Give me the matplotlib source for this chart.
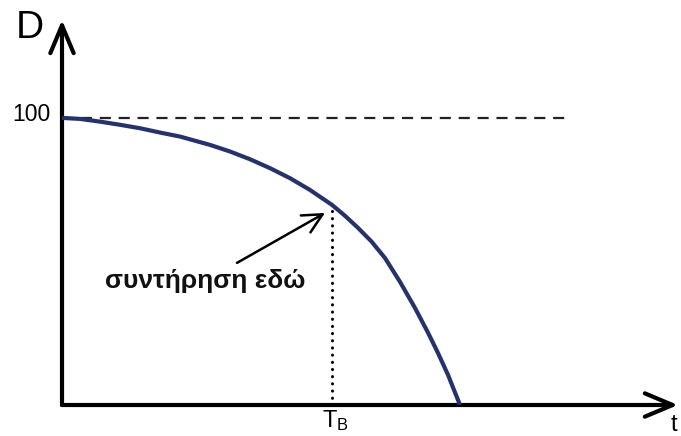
import matplotlib
matplotlib.use("Agg")
import matplotlib.pyplot as plt

plt.rcParams['font.family'] = ['Liberation Sans', 'DejaVu Sans']
plt.rcParams['mathtext.fontset'] = 'custom'
plt.rcParams['mathtext.rm'] = 'Liberation Sans'
plt.rcParams['mathtext.it'] = 'Liberation Sans'

# Curve D(t)
t_vals = [0.0, 0.45, 0.95, 1.45, 1.95, 2.45, 2.95, 3.7, 4.2, 4.7, 5.2, 5.7,
          6.2, 6.75, 7.075, 7.4, 7.74, 8.075, 8.45, 8.825, 9.15, 9.4, 9.65, 9.95]
d_vals = [100.0, 99.65, 98.7, 97.6, 96.4, 94.9, 93.5, 90.6, 88.3, 85.6, 82.5, 79.0,
          74.9, 69.7, 65.9, 61.7, 56.9, 51.2, 42.9, 33.8, 25.2, 18.1, 10.5, 0.0]
ref_level = 100
ref_end = 12.6
t_b = 6.75
d_b = 69.7
label_text = "συντήρηση εδώ"
x_label = "t"
y_label = "D"
tb_label = r"T$_\mathrm{B}$"
ref_label = "100"

W, H = 681, 436
fig = plt.figure(figsize=(W / 100, H / 100), dpi=100)
ax = fig.add_axes([62 / W, (H - 405) / H, (678 - 62) / W, (405 - 20) / H])
xmax, ymax = 15.4, 134.1
ax.set_xlim(0, xmax)
ax.set_ylim(0, ymax)
ax.axis('off')

# axes with open arrowheads
for end in [(xmax, 0), (0, ymax)]:
    ax.annotate("", xy=end, xytext=(0, 0),
                arrowprops=dict(arrowstyle="->,head_length=1.0,head_width=0.42",
                                lw=3.0, color='black', shrinkA=0, shrinkB=0,
                                mutation_scale=20),
                annotation_clip=False)

# dashed reference line
ax.plot([0, ref_end], [ref_level, ref_level], color='#222222', lw=1.6,
        linestyle=(0, (5, 3.5)), zorder=2)

# curve
ax.plot(t_vals, d_vals, color='#26336b', lw=3.0, solid_capstyle='butt',
        solid_joinstyle='round', zorder=3)

# dotted vertical at T_B
ax.plot([t_b, t_b], [0, d_b], color='black', lw=2.2,
        linestyle=(0, (0.05, 2.3)), dash_capstyle='round', zorder=2)

# annotation arrow
ax.annotate("", xy=(6.575, 66.9), xytext=(4.375, 49.5),
            arrowprops=dict(arrowstyle="->,head_length=0.7,head_width=0.35",
                            lw=1.8, color='black', shrinkA=0, shrinkB=0,
                            mutation_scale=20))
ax.text(1.075, 40.8, label_text, fontsize=19, fontweight='bold',
        ha='left', va='baseline', color='#111111')

# labels
fig.text(16 / W, 1 - 38 / H, y_label, fontsize=28, ha='left', va='baseline')
fig.text(51 / W, 1 - 121 / H, ref_label, fontsize=16.5, ha='right', va='baseline')
fig.text(671 / W, 1 - 431 / H, x_label, fontsize=17, ha='left', va='baseline')
fig.text(322 / W, 1 - 427 / H, tb_label, fontsize=17, ha='left', va='baseline')

fig.savefig("out.png", dpi=100)
